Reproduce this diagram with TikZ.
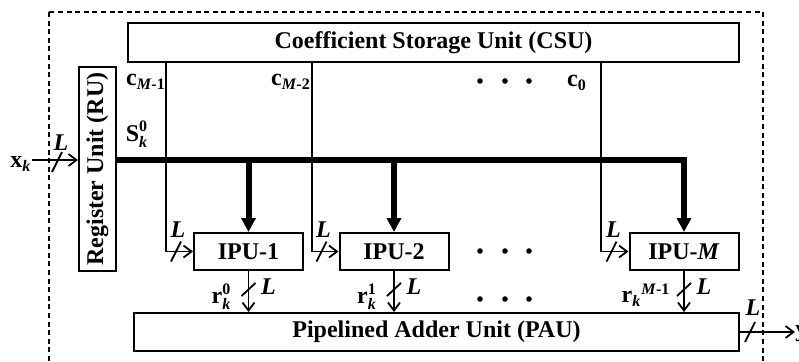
\documentclass[tikz,border=0pt]{standalone}
\usepackage{fontspec}
\setmainfont{Liberation Serif}
\usepackage{amsmath}
\usepackage{graphicx}
\usetikzlibrary{arrows.meta, calc}

\newcommand{\figfont}{\fontsize{12}{14}\selectfont\bfseries}

\tikzset{
  unit/.style={draw, line width=1pt, inner sep=0pt, font=\figfont},
  ipu/.style={unit, minimum width=54.5pt, minimum height=18.5pt},
  wire/.style={line width=0.9pt},
  feed/.style={wire, -{Straight Barb[length=4pt,width=6pt]}},
  busline/.style={line width=3pt, -{Triangle[length=7pt,width=7pt]}},
  lbl/.style={inner sep=0pt, font=\figfont},
}

\begin{document}
\begin{tikzpicture}[x=0.5pt, y=-0.5pt]
  \useasboundingbox (0,0) rectangle (799,361);

  % outer boundary
  \draw[line width=0.8pt, dash pattern=on 2.5pt off 1.8pt] (49,12) rectangle (763,380);

  % units
  \node[unit, minimum width=305.5pt, minimum height=19.5pt] (csu) at (433.5,42.5) {Coefficient Storage Unit (CSU)};
  \node[unit, minimum width=18.5pt, minimum height=102pt] (ru) at (97.5,169) {\rotatebox{90}{Register Unit (RU)}};
  \node[ipu] (ipu1) at (248.5,251.5) {IPU-1};
  \node[ipu] (ipu2) at (394,251.5) {IPU-2};
  \node[ipu] (ipuM) at (684,251.5) {IPU-\textit{M}};
  \node[unit, minimum width=302.5pt, minimum height=19pt] (pau) at (436.5,332) {Pipelined Adder Unit (PAU)};

  % reference levels
  \coordinate (busy) at (0,160);
  \coordinate (cM1) at (166,0);
  \coordinate (cM2) at (312,0);
  \coordinate (c0) at (601,0);

  % input x_k
  \node[lbl] (xk) at (21,164) {$\textbf{x}_{\textbf{\textit{k}}}$};
  \draw[feed] (xk.east |- busy) -- (ru.west |- busy);
  \draw[wire] (52,172) -- (62,152);
  \node[lbl] at (61,143) {\textit{L}};

  % sample bus S_k^0
  \draw[busline] (ru.east |- busy) -| (ipuM.north);
  \draw[busline] (ipu1.north |- busy) -- (ipu1.north);
  \draw[busline] (ipu2.north |- busy) -- (ipu2.north);
  \node[lbl] (lS) at (137,134) {$\textbf{S}_{\textbf{\textit{k}}}^{\textbf{0}}$};

  % coefficient lines
  \draw[feed] (csu.south -| cM1) |- (ipu1.west);
  \draw[feed] (csu.south -| cM2) |- (ipu2.west);
  \draw[feed] (csu.south -| c0) |- (ipuM.west);
  \node[lbl] (lcM1) at (146,82) {$\textbf{c}_{\textbf{\textit{M}}\textbf{-1}}$};
  \node[lbl] (lcM2) at (291,82) {$\textbf{c}_{\textbf{\textit{M}}\textbf{-2}}$};
  \node[lbl] (lc0) at (577,83) {$\textbf{c}_{\textbf{0}}$};

  % width marks on IPU inputs
  \draw[wire] ($(ipu1.west)+(-22,10)$) -- ++(10,-20);
  \node[lbl] at ($(ipu1.west)+(-15,-22)$) {\textit{L}};
  \draw[wire] ($(ipu2.west)+(-22,10)$) -- ++(10,-20);
  \node[lbl] at ($(ipu2.west)+(-15,-22)$) {\textit{L}};
  \draw[wire] ($(ipuM.west)+(-22,10)$) -- ++(10,-20);
  \node[lbl] at ($(ipuM.west)+(-15,-22)$) {\textit{L}};

  % partial results r_k
  \draw[feed] (ipu1.south) -- (pau.north -| ipu1.south);
  \draw[wire] ($(ipu1.south)+(-7,25)$) -- ++(14,-13);
  \node[lbl] at ($(ipu1.south)+(20,16)$) {\textit{L}};
  \node[lbl] at ($(ipu1.south)+(-27,26)$) {$\textbf{r}_{\textbf{\textit{k}}}^{\textbf{0}}$};

  \draw[feed] (ipu2.south) -- (pau.north -| ipu2.south);
  \draw[wire] ($(ipu2.south)+(-7,25)$) -- ++(14,-13);
  \node[lbl] at ($(ipu2.south)+(20,16)$) {\textit{L}};
  \node[lbl] at ($(ipu2.south)+(-27,26)$) {$\textbf{r}_{\textbf{\textit{k}}}^{\textbf{1}}$};

  \draw[feed] (ipuM.south) -- (pau.north -| ipuM.south);
  \draw[wire] ($(ipuM.south)+(-7,25)$) -- ++(14,-13);
  \node[lbl] at ($(ipuM.south)+(20,16)$) {\textit{L}};
  \node[lbl] at ($(ipuM.south)+(-38,24)$) {$\textbf{r}_{\textbf{\textit{k}}}{}^{\textbf{\textit{M}}\textbf{-1}}$};

  % output y_k
  \node[lbl, anchor=west] (yk) at (795,334) {$\textbf{y}_{\textbf{\textit{k}}}$};
  \draw[feed] (pau.east) -- (yk.west |- pau.east);
  \draw[wire] (745,342) -- (755,322);
  \node[lbl] at (753,308) {\textit{L}};

  % ellipses
  \foreach \x in {480,505,529} {
    \fill (\x,81) circle (1.4pt);
    \fill (\x,251) circle (1.4pt);
    \fill (\x,299) circle (1.4pt);
  }
\end{tikzpicture}
\end{document}
